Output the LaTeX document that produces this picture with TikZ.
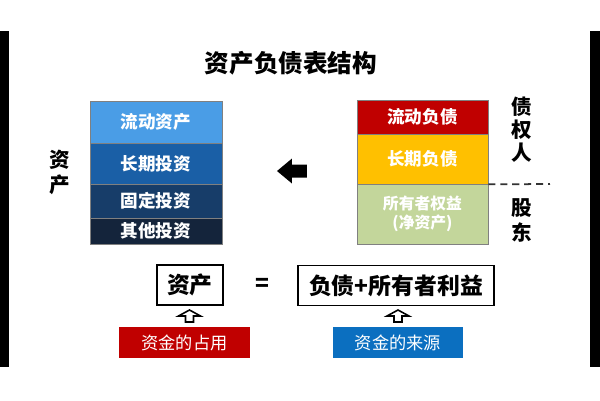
\documentclass[tikz,border=0pt]{standalone}
\usepackage{fontspec}
\setmainfont{Noto Sans CJK SC}
\definecolor{assetA}{HTML}{4A9DE6}
\definecolor{assetB}{HTML}{1A5FA6}
\definecolor{assetC}{HTML}{173D69}
\definecolor{assetD}{HTML}{14243B}
\definecolor{debtA}{HTML}{C00000}
\definecolor{debtB}{HTML}{FFC000}
\definecolor{equityC}{HTML}{C3D69B}
\definecolor{useRed}{HTML}{C00000}
\definecolor{srcBlue}{HTML}{0B6FC0}
\begin{document}
\begin{tikzpicture}[x=0.02cm, y=-0.02cm,
    part/.style={draw=gray, line width=0.4pt, minimum width=2.64cm, inner sep=0pt, text=white, font=\fontsize{10}{12}\selectfont\bfseries},
    side/.style={align=center, font=\fontsize{11.7}{14.2}\selectfont\bfseries},
    formula/.style={draw=black, line width=1.1pt, minimum height=0.8cm, inner sep=0pt, font=\fontsize{13}{15}\selectfont\bfseries},
    tag/.style={minimum width=2.62cm, minimum height=0.62cm, inner sep=0pt, text=white, font=\fontsize{9.8}{12}\selectfont},
    hollow/.style={draw=black, line width=0.9pt, fill=white, line join=miter}]
        \fill[white] (0, 0) rectangle (600, 400);
        \useasboundingbox (0, 0) rectangle (600, 400);
        \fill[black] (0, 31) rectangle (9, 367);
        \fill[black] (590, 31) rectangle (600, 367);
        \node[font=\fontsize{14}{16}\selectfont\bfseries] (title) at (291, 63) {资产负债表结构};
        % assets
        \node[part, fill=assetA, minimum height=0.84cm] (curasset) at (156, 122) {流动资产};
        \node[part, fill=assetB, minimum height=0.82cm] (longinv) at (156, 163.5) {长期投资};
        \node[part, fill=assetC, minimum height=0.68cm] (fixinv) at (156, 201) {固定投资};
        \node[part, fill=assetD, minimum height=0.52cm] (othinv) at (156, 231) {其他投资};
        \node[side] (assetlbl) at (60, 172.5) {资\\产};
        % liabilities and equity
        \node[part, fill=debtA, minimum width=2.62cm, minimum height=0.68cm] (curdebt) at (422.5, 117) {流动负债};
        \node[part, fill=debtB, minimum width=2.62cm, minimum height=1.0cm] (longdebt) at (422.5, 159) {长期负债};
        \node[part, fill=equityC, minimum width=2.62cm, minimum height=1.2cm, align=center, font=\fontsize{9}{10.8}\selectfont\bfseries] (equity) at (422.5, 214) {所有者权益\\(净资产)};
        \node[side, font=\fontsize{11.7}{13}\selectfont\bfseries] (creditor) at (522, 130) {债\\权\\人};
        \node[side] (holder) at (522, 220.5) {股\\东};
        \coordinate (dashend) at (550, 184);
        \draw[black!80, line width=1pt, dash pattern=on 4pt off 2.8pt] (longdebt.south east) -- (dashend);
        % big arrow
        \coordinate (pointer) at (277, 171);
        \fill[black] (pointer) -- ++(15, -12.5) -- ++(0, 6) -- ++(15, 0) -- ++(0, 13) -- ++(-15, 0) -- ++(0, 6) -- cycle;
        % formula
        \node[formula, minimum width=1.32cm] (asset) at (190, 285) {资产};
        \node[font=\fontsize{13}{15}\selectfont\bfseries] (equal) at (262, 285) {=};
        \node[formula, minimum width=3.92cm] (source) at (396, 285.5) {负债+所有者利益};
        \node[tag, fill=useRed] (occupy) at (184.5, 342.5) {资金的占用};
        \node[tag, fill=srcBlue] (origin) at (398, 342.5) {资金的来源};
        \coordinate (upA) at (189.5, 310);
        \coordinate (upB) at (398, 310);
        \draw[hollow] (upA) -- ++(11, 6) -- ++(-7, 0) -- ++(0, 6) -- ++(-8, 0) -- ++(0, -6) -- ++(-7, 0) -- cycle;
        \draw[hollow] (upB) -- ++(11, 6) -- ++(-7, 0) -- ++(0, 6) -- ++(-8, 0) -- ++(0, -6) -- ++(-7, 0) -- cycle;
    \end{tikzpicture}
\end{document}
